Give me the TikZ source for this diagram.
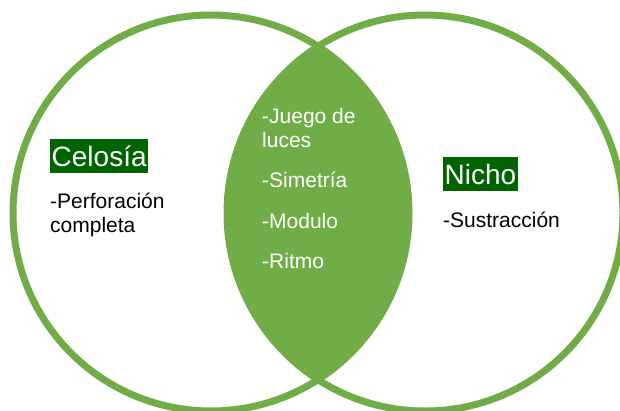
\documentclass[tikz,border=0pt]{standalone}
\usepackage{fontspec}
\setmainfont{Liberation Sans}
\usepackage{tikz}

\definecolor{vennGreen}{HTML}{70AD47}
\definecolor{labelGreen}{HTML}{006400}

\begin{document}
\begin{tikzpicture}[x=1pt,y=-1pt,
  ring/.style={draw=vennGreen,line width=7pt},
  title/.style={anchor=base west,fill=labelGreen,text=white,inner sep=0pt,inner xsep=1.5pt,
    text height=27pt,text depth=7pt,font=\fontsize{28}{34}\selectfont},
  item/.style={anchor=base west,inner sep=0pt,font=\fontsize{21}{24}\selectfont},
  lensitem/.style={item,text=white}]
  \useasboundingbox (0,0) rectangle (620,410);
  \clip (0,0) rectangle (620,410);

  % shared part of the two sets
  \begin{scope}
    \clip (211,213) circle (198pt);
    \fill[vennGreen] (425,213) circle (198pt);
  \end{scope}
  \draw[ring] (211,213) circle (198pt);
  \draw[ring] (425,213) circle (198pt);

  \node[title] (celosia) at (50,166) {Celosía};
  \node[item] (perforacion) at (50,208) {-Perforación};
  \node[item] (completa) at (50,232) {completa};

  \node[title] (nicho) at (443,184) {Nicho};
  \node[item] (sustraccion) at (443,227) {-Sustracción};

  \node[lensitem] (juego) at (262,123) {-Juego de};
  \node[lensitem] (luces) at (262,147) {luces};
  \node[lensitem] (simetria) at (262,187) {-Simetría};
  \node[lensitem] (modulo) at (262,228) {-Modulo};
  \node[lensitem] (ritmo) at (262,268) {-Ritmo};
\end{tikzpicture}
\end{document}
